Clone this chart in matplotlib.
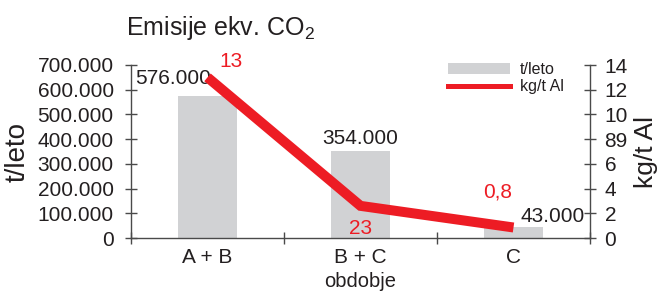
import matplotlib
matplotlib.use("Agg")
import matplotlib.pyplot as plt
from matplotlib.patches import Patch
from matplotlib.lines import Line2D

plt.rcParams['font.family'] = ['Liberation Sans', 'DejaVu Sans']
plt.rcParams['mathtext.fontset'] = 'custom'
plt.rcParams['mathtext.rm'] = 'Liberation Sans'
plt.rcParams['mathtext.it'] = 'Liberation Sans'

categories = ["A + B", "B + C", "C"]
t_leto = [576000, 354000, 43000]
kg_t_al = [13, 2.6, 0.85]
bar_labels = ["576.000", "354.000", "43.000"]
line_labels = ["13", "23", "0,8"]
left_ticks = [0, 100000, 200000, 300000, 400000, 500000, 600000, 700000]
left_tick_labels = ["0", "100.000", "200.000", "300.000", "400.000", "500.000", "600.000", "700.000"]
right_ticks = [0, 2, 4, 6, 8, 10, 12, 14]
right_tick_labels = ["0", "2", "4", "6", "89", "10", "12", "14"]

GRAY = "#D1D2D4"
RED = "#ED1C24"
AX = "#4a4a4a"
TXT = "#231F20"

fig = plt.figure(figsize=(6.61, 2.93), dpi=100)
ax = fig.add_axes([131/661, 1-238/293, (590-131)/661, (238-65)/293])
ax2 = ax.twinx()

x = list(range(len(categories)))
ax.bar(x, t_leto, width=0.39, color=GRAY, zorder=1)
ax.set_xlim(-0.5, 2.5)
ax.set_ylim(0, 700000)
ax.set_yticks(left_ticks)
ax.set_yticklabels(left_tick_labels)
ax.set_xticks([-0.5, 0.5, 1.5, 2.5])
ax.set_xticklabels([])
ax.set_xticks(x, minor=True)
ax.set_xticklabels(categories, minor=True)
ax.tick_params(axis='x', which='minor', length=0, pad=7, labelsize=15, labelcolor=TXT)
ax.tick_params(axis='x', which='major', direction='inout', length=9, width=1, color=AX)
ax.tick_params(axis='y', direction='inout', length=9, width=1, color=AX, labelsize=15, labelcolor=TXT, pad=8)
ax.set_xlabel("obdobje", fontsize=14.5, color=TXT, labelpad=4)
ax.set_ylabel("t/leto", fontsize=20, color=TXT, labelpad=5)

ax2.plot(x, kg_t_al, color=RED, linewidth=7.2, solid_capstyle='butt', solid_joinstyle='miter', zorder=3)
ax2.set_ylim(0, 14)
ax2.set_yticks(right_ticks)
ax2.set_yticklabels(right_tick_labels)
ax2.tick_params(axis='y', direction='inout', length=9, width=1, color=AX, labelsize=15, labelcolor=TXT, pad=6)
ax2.set_ylabel("kg/t Al", fontsize=19, color=TXT, labelpad=4)

for a in (ax, ax2):
    a.spines["top"].set_visible(False)
    for s in ("left", "right", "bottom"):
        a.spines[s].set_color(AX)
        a.spines[s].set_linewidth(1)
ax.spines['right'].set_visible(False)
ax2.spines['left'].set_visible(False)
ax2.spines['bottom'].set_visible(False)

# bar value labels (offsets in points)
bar_offsets = [(-25, 12), (0, 8.5), (28, 8)]
for xi, v, lab, off in zip(x, t_leto, bar_labels, bar_offsets):
    ax.annotate(lab, (xi, v), xytext=off, textcoords='offset points',
                ha='center', va='center', fontsize=15, color=TXT, zorder=5)

line_offsets = [(17, 11.5), (0, -16), (-11.5, 25.5)]
for xi, v, lab, off in zip(x, kg_t_al, line_labels, line_offsets):
    ax2.annotate(lab, (xi, v), xytext=off, textcoords='offset points',
                 ha='center', va='center', fontsize=15, color=RED, zorder=5)

fig.text(126/661, 1-28/293, r"Emisije ekv. CO$_{\mathregular{2}}$", fontsize=18, color=TXT, ha='left', va='center')

handles = [Patch(facecolor=GRAY, edgecolor='none'),
           Line2D([0], [0], color=RED, linewidth=3.6)]
leg = fig.legend(handles, ["t/leto", "kg/t Al"], loc='upper left',
                 bbox_to_anchor=(448/661, 1-62/293), frameon=False, fontsize=11.5,
                 handlelength=3.9, handleheight=0.65, handletextpad=0.6,
                 labelspacing=0.15, borderpad=0, borderaxespad=0)
for t in leg.get_texts():
    t.set_color(TXT)

fig.savefig("out.png", dpi=100)
